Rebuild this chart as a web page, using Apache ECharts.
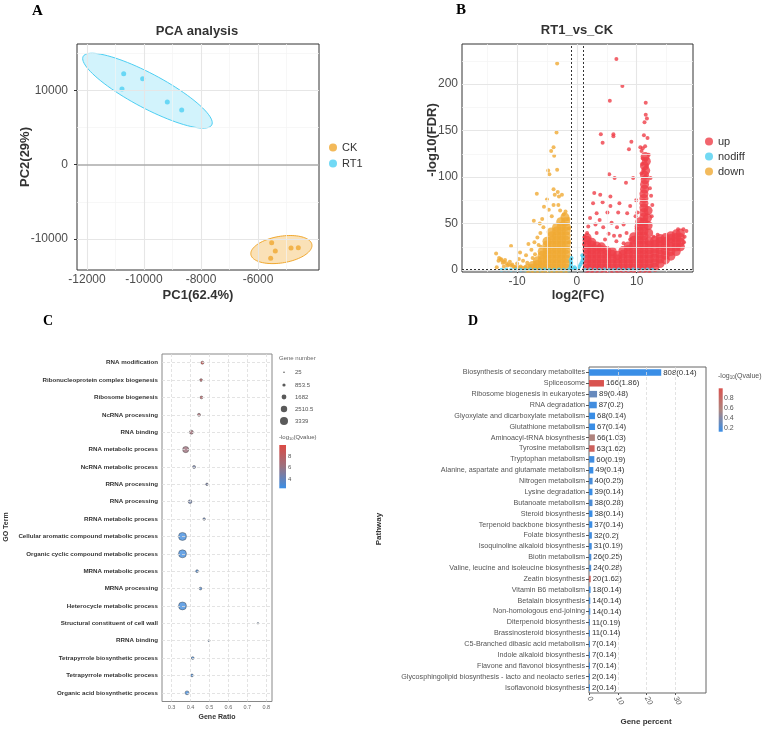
<!DOCTYPE html>
<html>
<head>
<meta charset="utf-8">
<title>RT1 vs CK</title>
<script src="https://cdn.jsdelivr.net/npm/echarts@6/dist/echarts.min.js"></script>
<style>
html, body { margin: 0; padding: 0; background: #fff; }
#main { width: 767px; height: 730px; }
</style>
</head>
<body>
<div id="main"></div>
<script>
// ---------- A: PCA ----------
var pcaCK = [[-5520, -10498], [-5393, -11615], [-5555, -12600], [-4842, -11211], [-4586, -11171]];
var pcaRT1 = [[-10712, 12247], [-10046, 11575], [-10772, 10188], [-9182, 8439], [-8677, 7362]];
var pcaXTicks = [-12000, -10000, -8000, -6000];
var pcaYTicks = [-10000, 0, 10000];
var pcaXMinor = [-11000, -9000, -7000, -5000];
var pcaYMinor = [-5000, 5000, 15000];

// ---------- B: volcano (log2FC, -log10FDR) ----------
var volUpDense = [
  [1.7,2],[1.7,7],[1.7,12],[1.7,17],[1.7,22],[1.7,27],[1.7,32],[1.7,35],
  [2.5,2],[2.5,7],[2.5,12],[2.5,17],[2.5,22],[2.5,27],[2.5,30],
  [3.3,2],[3.3,7],[3.3,12],[3.3,17],[3.3,22],[3.3,26],
  [4.1,2],[4.1,7],[4.1,12],[4.1,17],[4.1,22],[4.1,25],
  [5.0,2],[5.0,7],[5.0,12],[5.0,17],[5.0,21],
  [5.9,2],[5.9,7],[5.9,12],[5.9,17],[5.9,20],
  [6.8,2],[6.8,7],[6.8,12],[6.8,16],
  [7.7,2],[7.7,7],[7.7,12],[7.7,17],[7.7,21],
  [8.6,2],[8.6,7],[8.6,12],[8.6,17],[8.6,22],[8.6,26],
  [9.5,2],[9.5,7],[9.5,12],[9.5,17],[9.5,22],[9.5,27],[9.5,32],[9.5,36],
  [10.4,2],[10.4,7],[10.4,12],[10.4,17],[10.4,22],[10.4,27],[10.4,32],[10.4,37],[10.4,42],[10.4,47],[10.5,52],
  [11.2,2],[11.2,7],[11.2,12],[11.2,17],[11.2,22],[11.2,27],[11.2,32],[11.2,37],[11.2,42],[11.2,47],[11.2,52],
  [11.2,57],[11.2,62],[11.2,67],[11.2,72],[11.2,77],[11.2,82],[11.3,87],[11.3,92],[11.4,97],[11.3,102],
  [11.5,107],[11.3,112],[11.6,117],[11.4,122],
  [12.1,2],[12.1,7],[12.1,12],[12.1,17],[12.1,22],[12.1,27],[12.1,31],[12.0,40],[11.9,48],[11.8,56],[11.9,64],
  [13.0,3],[13.0,8],[13.0,13],[13.0,18],[13.0,23],[13.0,28],[13.0,32],
  [13.9,7],[13.9,12],[13.9,17],[13.9,22],[13.9,27],[13.9,31],[13.9,34],
  [14.8,11],[14.8,16],[14.8,21],[14.8,26],[14.8,31],[14.8,35],
  [15.7,15],[15.7,20],[15.7,25],[15.7,30],[15.7,34],[15.7,37],
  [16.6,20],[16.6,25],[16.6,30],[16.6,35],[16.6,39],
  [17.3,25],[17.3,30],[17.3,35],[17.3,40]
];
var volUp = [
  [6.6,227],[7.6,198],[5.5,182],[11.5,180],[11.5,167],[11.7,163],[11.3,159],[4.0,146],[6.1,146],[6.1,144],
  [4.3,137],[11.2,145],[11.8,142],[9.1,138],[8.7,130],[10.6,132],[11.0,131],[11.4,133],[10.8,128],[12.0,124],
  [11.0,120],[11.5,118],[10.9,114],[11.6,112],[11.2,108],[10.8,104],[11.5,101],[5.4,103],[6.3,99],[9.4,99],
  [12.3,99],[8.2,94],[2.9,83],[3.9,81],[5.6,79],[2.7,72],[4.3,73],[5.6,69],[7.1,72],[8.9,69],
  [2.2,56],[3.3,61],[3.8,54],[5.1,62],[6.9,62],[8.4,61],[1.9,47],[3.1,49],[4.4,46],[5.8,51],
  [6.7,46],[7.8,49],[1.7,40],[3.3,40],[5.3,39],[6.2,37],[7.2,37],[8.3,40],[4.7,33],[6.6,31],
  [7.8,29],[8.9,33],[18.3,42],[17.8,44],[12.6,70],[12.4,80],[9.9,75],[12.2,88],[10.1,62],[12.5,58],
  [1.3,36],[1.2,28],[18.0,36],[17.9,30],[16.9,44],[12.8,36],[13.5,38],[9.8,58],[10.0,45]
];
var volDownDense = [
  [-1.8,2],[-1.8,7],[-1.8,12],[-1.8,17],[-1.8,22],[-1.8,27],[-1.8,32],[-1.8,37],[-1.8,42],[-1.8,47],[-1.9,52],[-2.0,57],
  [-2.6,2],[-2.6,7],[-2.6,12],[-2.6,17],[-2.6,22],[-2.6,27],[-2.6,32],[-2.6,37],[-2.6,42],[-2.6,47],[-2.7,52],
  [-3.4,2],[-3.4,7],[-3.4,12],[-3.4,17],[-3.4,22],[-3.4,27],[-3.4,32],[-3.4,37],[-3.4,42],[-3.4,46],
  [-4.2,2],[-4.2,7],[-4.2,12],[-4.2,17],[-4.2,22],[-4.2,27],[-4.2,32],[-4.2,37],[-4.3,41],
  [-5.0,2],[-5.0,7],[-5.0,12],[-5.0,17],[-5.0,22],[-5.0,27],[-5.0,31],
  [-5.8,2],[-5.8,6],[-5.8,11],[-5.8,16],[-5.8,20],
  [-6.6,2],[-6.6,6],[-6.6,10],
  [-7.4,2],[-7.4,5],
  [-8.2,2]
];
var volDown = [
  [-3.3,222],[-3.4,148],[-3.9,132],[-4.3,128],[-3.8,123],[-4.8,107],[-4.6,103],[-3.3,108],[-6.7,82],[-3.9,87],
  [-3.2,84],[-3.7,81],[-3.0,79],[-2.5,81],[-5.0,76],[-5.5,68],[-4.7,65],[-3.9,70],[-3.1,70],[-2.2,60],
  [-1.9,63],[-2.8,64],[-4.2,58],[-7.2,53],[-6.2,50],[-5.6,46],[-6.6,35],[-6.1,40],[-7.1,30],[-8.1,28],
  [-11.0,26],[-7.6,22],[-8.5,16],[-9.5,19],[-9.0,10],[-10.0,7],[-9.7,12],[-10.8,6],[-11.2,9],[-11.6,5],
  [-12.0,11],[-12.4,8],[-12.7,12],[-13.1,10],[-13.5,18],[-12.2,4],[-13.4,3],[-10.4,3],[-9.4,4],[-8.3,8],
  [-7.4,13],[-6.4,27],[-5.8,55],[-13.0,13],[-12.6,11],[-12.2,9],[-11.8,7.5],[-11.4,6],[-11.0,5],[-10.6,4],
  [-10.2,3.5],[-9.8,3],[-9.4,2.5],[-9.0,2.5],[-8.6,3],[-1.4,55],[-1.3,45],[-1.3,30],[-6.0,25],[-7.0,17]
];
var volNodiff = [
  [-12.6,0.5],[-11.8,0.6],[-11.0,0.4],[-10.2,0.6],[-9.4,0.5],[-8.6,0.4],[-7.8,0.6],[-7.0,0.5],[-6.2,0.4],
  [-5.4,0.6],[-4.6,0.5],[-3.8,0.4],[-3.0,0.6],[-2.2,0.5],[-1.4,0.4],[-1.1,2.5],[-1.0,5],[-0.95,8],[-1.05,11],
  [-0.9,13],[-0.6,1.5],[-0.4,3],[-0.1,1],[0.2,2],[0.4,4],[0.6,6],[0.8,8.5],[0.95,11],[1.0,14],[0.9,16],
  [1.4,0.5],[2.2,0.6],[3.0,0.4],[3.8,0.5],[4.6,0.6],[5.4,0.4],[6.2,0.5],[7.0,0.6],[7.8,0.4],[8.6,0.5],
  [9.4,0.6],[10.2,0.4],[11.0,0.5],[11.8,0.6],[12.6,0.4]
];
var volXTicks = [-10, 0, 10];
var volYTicks = [0, 50, 100, 150, 200];
var volXMinor = [-15, -5, 5, 15];
var volYMinor = [25, 75, 125, 175, 225];

// ---------- C: GO enrichment ----------
var goTerms = ['RNA modification', 'Ribonucleoprotein complex biogenesis', 'Ribosome biogenesis', 'NcRNA processing',
  'RNA binding', 'RNA metabolic process', 'NcRNA metabolic process', 'RRNA processing', 'RNA processing',
  'RRNA metabolic process', 'Cellular aromatic compound metabolic process', 'Organic cyclic compound metabolic process',
  'MRNA metabolic process', 'MRNA processing', 'Heterocycle metabolic process', 'Structural constituent of cell wall',
  'RRNA binding', 'Tetrapyrrole biosynthetic process', 'Tetrapyrrole metabolic process', 'Organic acid biosynthetic process'];
var goRatio = [0.463, 0.456, 0.458, 0.445, 0.405, 0.375, 0.419, 0.487, 0.398, 0.472,
  0.358, 0.358, 0.435, 0.453, 0.358, 0.756, 0.498, 0.412, 0.408, 0.382];
var goCount = [750, 650, 650, 750, 1250, 2400, 750, 500, 1100, 500,
  3339, 3320, 650, 600, 3300, 25, 250, 650, 650, 1200];
var goQ = [9.3, 7.8, 7.8, 7.0, 6.6, 6.3, 4.5, 4.6, 4.2, 4.0,
  2.6, 2.6, 3.0, 3.2, 2.6, 3.5, 3.3, 2.8, 2.8, 2.6];
var goXTicks = [0.3, 0.4, 0.5, 0.6, 0.7, 0.8];
var goSizeLegend = [25, 853.5, 1682, 2510.5, 3339];
var goColorTicks = [8, 6, 4];

// ---------- D: KEGG enrichment ----------
var keggPath = ['Biosynthesis of secondary metabolites', 'Spliceosome', 'Ribosome biogenesis in eukaryotes', 'RNA degradation',
  'Glyoxylate and dicarboxylate metabolism', 'Glutathione metabolism', 'Aminoacyl-tRNA biosynthesis', 'Tyrosine metabolism',
  'Tryptophan metabolism', 'Alanine, aspartate and glutamate metabolism', 'Nitrogen metabolism', 'Lysine degradation',
  'Butanoate metabolism', 'Steroid biosynthesis', 'Terpenoid backbone biosynthesis', 'Folate biosynthesis',
  'Isoquinoline alkaloid biosynthesis', 'Biotin metabolism', 'Valine, leucine and isoleucine biosynthesis', 'Zeatin biosynthesis',
  'Vitamin B6 metabolism', 'Betalain biosynthesis', 'Non-homologous end-joining', 'Diterpenoid biosynthesis',
  'Brassinosteroid biosynthesis', 'C5-Branched dibasic acid metabolism', 'Indole alkaloid biosynthesis',
  'Flavone and flavonol biosynthesis', 'Glycosphingolipid biosynthesis - lacto and neolacto series', 'Isoflavonoid biosynthesis'];
var keggCount = [808, 166, 89, 87, 68, 67, 66, 63, 60, 49, 40, 39, 38, 38, 37, 32, 31, 26, 24, 20, 18, 14, 14, 11, 11, 7, 7, 7, 2, 2];
var keggQ = [0.14, 1.86, 0.48, 0.2, 0.14, 0.14, 1.03, 1.62, 0.19, 0.14, 0.25, 0.14, 0.28, 0.14, 0.14, 0.2, 0.19, 0.25, 0.28, 1.62,
  0.14, 0.14, 0.14, 0.19, 0.14, 0.14, 0.14, 0.14, 0.14, 0.14];
var keggPercent = [25.1, 5.2, 2.8, 2.7, 2.1, 2.1, 2.05, 1.95, 1.85, 1.5, 1.25, 1.2, 1.2, 1.2, 1.15, 1.0, 0.95, 0.8, 0.75, 0.6,
  0.55, 0.45, 0.45, 0.35, 0.35, 0.22, 0.22, 0.22, 0.06, 0.06];
var keggXTicks = [0, 10, 20, 30];
var keggColorTicks = [0.8, 0.6, 0.4, 0.2];

// ---------- helpers ----------
var FONT = 'Liberation Sans';
var cCK = '#F0A830', cRT1 = '#4DCFF3';
var cUp = '#EF3E48', cNodiff = '#4FCFF0', cDown = '#F0AA35';
var goColors = ['#3b8fe6', '#9a7280', '#dc4a44'];
var keggColors = ['#3a8ee6', '#ad857f', '#d9534f'];

// 95% normal confidence ellipse (like stat_ellipse type = "norm")
function ellipse(pts) {
  var n = pts.length, mx = 0, my = 0;
  pts.forEach(function (p) { mx += p[0]; my += p[1]; });
  mx /= n; my /= n;
  var sxx = 0, syy = 0, sxy = 0;
  pts.forEach(function (p) {
    var dx = p[0] - mx, dy = p[1] - my;
    sxx += dx * dx; syy += dy * dy; sxy += dx * dy;
  });
  sxx /= n - 1; syy /= n - 1; sxy /= n - 1;
  var r = Math.sqrt(5.991);
  var a = Math.sqrt(sxx), b = sxy / a, c = Math.sqrt(syy - b * b);
  var out = [];
  for (var i = 0; i <= 90; i++) {
    var t = i / 90 * 2 * Math.PI;
    out.push([mx + r * a * Math.cos(t), my + r * (b * Math.cos(t) + c * Math.sin(t))]);
  }
  return out;
}

function lines(axis, vals, color, width, type) {
  return vals.map(function (v) {
    var o = { lineStyle: { color: color, width: width, type: type || 'solid' } };
    o[axis] = v;
    return o;
  });
}

function gridSeries(idx, data, z) {
  return {
    type: 'scatter', xAxisIndex: idx, yAxisIndex: idx, data: [], silent: true, z: z || 1,
    markLine: { silent: true, symbol: ['none', 'none'], label: { show: false }, animation: false, data: data }
  };
}

function ellipseSeries(pts, stroke, fill) {
  var poly = ellipse(pts);
  return {
    type: 'custom', xAxisIndex: 0, yAxisIndex: 0, data: [0], silent: true, z: 2,
    renderItem: function (params, api) {
      return {
        type: 'polygon',
        shape: { points: poly.map(function (p) { return api.coord(p); }) },
        style: { fill: fill, stroke: stroke, lineWidth: 1 }
      };
    }
  };
}

function goSize(n) { return 1.6 + 6.4 * (n - 25) / 3314; }

function plain(v) { return String(v); }

function valueAxis(idx, min, max, ticks, labelOpt) {
  return {
    gridIndex: idx, type: 'value', min: min, max: max,
    axisLine: { show: false }, splitLine: { show: false },
    axisTick: { show: true, length: 3, lineStyle: { color: '#333' }, customValues: ticks },
    axisLabel: Object.assign({ customValues: ticks, formatter: plain, fontSize: 12, color: '#4d4d4d', fontFamily: FONT, margin: 4 }, labelOpt || {})
  };
}

function txt(x, y, s, size, opt) {
  opt = opt || {};
  return {
    type: 'text', x: x, y: y, rotation: opt.rot || 0, z: 100,
    style: {
      text: s, fontSize: size, fontFamily: opt.family || FONT, fontWeight: opt.bold ? 'bold' : 'normal',
      fill: opt.color || '#1a1a1a', align: opt.align || 'center', verticalAlign: 'middle', rich: opt.rich
    }
  };
}

var chart = echarts.init(document.getElementById('main'), null, { renderer: 'canvas' });

// legends for C and D, titles, axis names, panel letters
var graphics = [
  txt(32, 11, 'A', 15, { family: 'Liberation Serif', bold: true, align: 'left', color: '#000' }),
  txt(456, 10, 'B', 15, { family: 'Liberation Serif', bold: true, align: 'left', color: '#000' }),
  txt(43, 321, 'C', 14, { family: 'Liberation Serif', bold: true, align: 'left', color: '#000' }),
  txt(468, 321, 'D', 14, { family: 'Liberation Serif', bold: true, align: 'left', color: '#000' }),
  txt(197, 31, 'PCA analysis', 13, { bold: true, color: '#333' }),
  txt(577, 30, 'RT1_vs_CK', 13, { bold: true, color: '#333' }),
  txt(198, 295, 'PC1(62.4%)', 13, { bold: true, color: '#333' }),
  txt(25, 157, 'PC2(29%)', 13, { bold: true, color: '#333', rot: Math.PI / 2 }),
  txt(578, 295, 'log2(FC)', 13, { bold: true, color: '#333' }),
  txt(432, 140, '-log10(FDR)', 13, { bold: true, color: '#333', rot: Math.PI / 2 }),
  txt(217, 717, 'Gene Ratio', 7, { bold: true, color: '#333' }),
  txt(6, 527, 'GO Term', 7, { bold: true, color: '#333', rot: Math.PI / 2 }),
  txt(646, 722, 'Gene percent', 8, { bold: true, color: '#333' }),
  txt(379, 529, 'Pathway', 8, { bold: true, color: '#333', rot: Math.PI / 2 }),
  txt(279, 358, 'Gene number', 6, { align: 'left', color: '#666' }),
  txt(279, 437, '-log{s|10}(Qvalue)', 6, { align: 'left', color: '#555', rich: { s: { fontSize: 4, padding: [4, 0, 0, 0], fill: '#555' } } }),
  txt(718, 376, '-log{s|10}(Qvalue)', 7, { align: 'left', color: '#555', rich: { s: { fontSize: 4.5, padding: [4, 0, 0, 0], fill: '#555' } } }),
  {
    type: 'rect', shape: { x: 279.3, y: 445, width: 6.7, height: 43.3 },
    style: { fill: new echarts.graphic.LinearGradient(0, 0, 0, 1, [
      { offset: 0, color: goColors[2] }, { offset: 0.5, color: goColors[1] }, { offset: 1, color: goColors[0] }]) }
  },
  {
    type: 'rect', shape: { x: 718.7, y: 388.3, width: 4, height: 43.4 },
    style: { fill: new echarts.graphic.LinearGradient(0, 0, 0, 1, [
      { offset: 0, color: keggColors[2] }, { offset: 0.5, color: keggColors[1] }, { offset: 1, color: keggColors[0] }]) }
  }
];
var goLegendY = [372.3, 385, 397, 409, 421];
goSizeLegend.forEach(function (n, i) {
  graphics.push({ type: 'circle', shape: { cx: 284, cy: goLegendY[i], r: goSize(n) / 2 }, style: { fill: '#5a5a5a' } });
  graphics.push(txt(295, goLegendY[i], String(n), 6, { align: 'left', color: '#555' }));
});
goColorTicks.forEach(function (v) {
  var y = 456 + (8 - v) * 5.83;
  graphics.push(txt(288, y, String(v), 6, { align: 'left', color: '#555' }));
});
keggColorTicks.forEach(function (v) {
  var y = 398.3 + (0.8 - v) * 49.5;
  graphics.push(txt(724, y, String(v), 7, { align: 'left', color: '#555' }));
});

var option = {
  animation: false,
  textStyle: { fontFamily: FONT },
  grid: [
    { left: 77, top: 44, width: 242, height: 226, show: true, borderColor: '#333', borderWidth: 1, backgroundColor: '#fff' },
    { left: 462, top: 44, width: 231, height: 228, show: true, borderColor: '#333', borderWidth: 1, backgroundColor: '#fff' },
    { left: 162, top: 354, width: 110, height: 347.5, show: true, borderColor: '#888', borderWidth: 1, backgroundColor: '#fff' },
    { left: 589, top: 367, width: 117, height: 326, show: true, borderColor: '#666', borderWidth: 1, backgroundColor: '#fff' }
  ],
  xAxis: [
    valueAxis(0, -12350, -3860, pcaXTicks),
    valueAxis(1, -19.2, 19.4, volXTicks),
    Object.assign(valueAxis(2, 0.25, 0.83, goXTicks, { fontSize: 5.5, color: '#666', margin: 3 }), { axisTick: { show: false } }),
    Object.assign(valueAxis(3, 0, 40.66, keggXTicks, { fontSize: 7.5, color: '#555', margin: 4, rotate: -60, fontStyle: 'italic' }),
      { axisTick: { show: true, length: 2, lineStyle: { color: '#555' }, customValues: keggXTicks } })
  ],
  yAxis: [
    valueAxis(0, -14170, 16245, pcaYTicks, { margin: 9 }),
    valueAxis(1, -2, 243, volYTicks, { margin: 4 }),
    {
      gridIndex: 2, type: 'category', data: goTerms, inverse: true,
      axisLine: { show: false }, axisTick: { show: false }, splitLine: { show: false },
      axisLabel: { fontSize: 6.2, fontWeight: 'bold', color: '#333', margin: 4 }
    },
    {
      gridIndex: 3, type: 'category', data: keggPath, inverse: true,
      axisLine: { show: false }, splitLine: { show: false },
      axisTick: { show: true, alignWithLabel: true, length: 3, lineStyle: { color: '#555' } },
      axisLabel: { fontSize: 7.2, color: '#555', margin: 4 }
    }
  ],
  legend: [
    {
      data: ['CK', 'RT1'], left: 329, top: 142, orient: 'vertical', padding: 0, icon: 'circle',
      itemWidth: 8, itemHeight: 8, itemGap: 5, textStyle: { fontSize: 11, color: '#333', fontFamily: FONT }
    },
    {
      data: ['up', 'nodiff', 'down'], left: 705, top: 136, orient: 'vertical', padding: 0, icon: 'circle',
      itemWidth: 8, itemHeight: 8, itemGap: 4, textStyle: { fontSize: 11, color: '#333', fontFamily: FONT }
    }
  ],
  visualMap: [
    { type: 'continuous', show: false, seriesIndex: 13, dimension: 3, min: 2.3, max: 9.9, inRange: { color: goColors } },
    { type: 'continuous', show: false, seriesIndex: 15, dimension: 2, min: 0.14, max: 1.86, inRange: { color: keggColors } }
  ],
  graphic: graphics,
  series: [
    // 0: A grid lines
    gridSeries(0, [].concat(
      lines('xAxis', pcaXMinor, '#f3f3f3', 0.7), lines('yAxis', pcaYMinor, '#f3f3f3', 0.7),
      lines('xAxis', pcaXTicks, '#e6e6e6', 1.1), lines('yAxis', [-10000, 10000], '#e6e6e6', 1.1),
      lines('yAxis', [0], '#aaaaaa', 1.6))),
    // 1-2: A ellipses
    ellipseSeries(pcaRT1, cRT1, 'rgba(77,207,243,0.25)'),
    ellipseSeries(pcaCK, cCK, 'rgba(240,168,48,0.35)'),
    // 3-4: A points
    { type: 'scatter', name: 'CK', xAxisIndex: 0, yAxisIndex: 0, data: pcaCK, symbolSize: 5, itemStyle: { color: cCK }, z: 3 },
    { type: 'scatter', name: 'RT1', xAxisIndex: 0, yAxisIndex: 0, data: pcaRT1, symbolSize: 5, itemStyle: { color: cRT1 }, z: 3 },
    // 5: B grid lines
    gridSeries(1, [].concat(
      lines('xAxis', volXMinor, '#f3f3f3', 0.7), lines('yAxis', volYMinor, '#f3f3f3', 0.7),
      lines('xAxis', volXTicks, '#e6e6e6', 1.1), lines('yAxis', volYTicks, '#e6e6e6', 1.1))),
    // 6-10: B points
    { type: 'scatter', name: 'up', xAxisIndex: 1, yAxisIndex: 1, data: volUpDense, symbolSize: 9, itemStyle: { color: cUp }, z: 3 },
    { type: 'scatter', name: 'up', xAxisIndex: 1, yAxisIndex: 1, data: volUp, symbolSize: 4, itemStyle: { color: cUp }, z: 3 },
    { type: 'scatter', name: 'down', xAxisIndex: 1, yAxisIndex: 1, data: volDownDense, symbolSize: 9, itemStyle: { color: cDown }, z: 3 },
    { type: 'scatter', name: 'down', xAxisIndex: 1, yAxisIndex: 1, data: volDown, symbolSize: 4, itemStyle: { color: cDown }, z: 3 },
    { type: 'scatter', name: 'nodiff', xAxisIndex: 1, yAxisIndex: 1, data: volNodiff, symbolSize: 4, itemStyle: { color: cNodiff }, z: 4 },
    // 11: B threshold lines
    gridSeries(1, [].concat(
      lines('xAxis', [-1, 1], '#333', 1, [2, 2]), lines('yAxis', [1.3], '#333', 1, [2, 2])), 5),
    // 12: C grid lines
    gridSeries(2, [].concat(
      lines('xAxis', goXTicks, '#dcdcdc', 0.8, [3, 2]), lines('yAxis', goTerms, '#dcdcdc', 0.8, [3, 2]))),
    // 13: C dots
    {
      type: 'scatter', xAxisIndex: 2, yAxisIndex: 2, z: 3,
      data: goTerms.map(function (t, i) { return [goRatio[i], t, goCount[i], goQ[i]]; }),
      symbolSize: function (v) { return goSize(v[2]); },
      itemStyle: { borderColor: '#333', borderWidth: 0.5 }
    },
    // 14: D grid lines
    gridSeries(3, lines('xAxis', [10, 20, 30], '#dcdcdc', 0.8, [3, 2])),
    // 15: D bars
    {
      type: 'bar', xAxisIndex: 3, yAxisIndex: 3, z: 3, barWidth: 6.5, barMinHeight: 1,
      data: keggPath.map(function (p, i) { return [keggPercent[i], p, keggQ[i]]; }),
      encode: { x: 0, y: 1 },
      label: {
        show: true, position: 'right', distance: 2, fontSize: 7.8, color: '#333',
        formatter: function (p) { return keggCount[p.dataIndex] + '(' + keggQ[p.dataIndex] + ')'; }
      }
    }
  ]
};

chart.setOption(option);
</script>
</body>
</html>
